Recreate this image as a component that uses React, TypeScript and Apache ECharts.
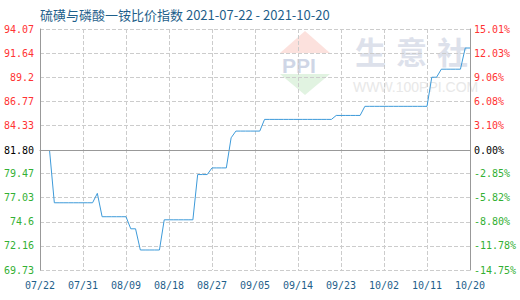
import { useEffect, useRef } from 'react';
import * as echarts from 'echarts';

const chartTitle = '硫磺与磷酸一铵比价指数 2021-07-22 - 2021-10-20';
const startDate = '2021-07-22';
const dayCount = 91;

// daily index values, 07/22 .. 10/20
const indexValues = [
  81.80, 81.80, 81.80,
  76.52, 76.52, 76.52, 76.52, 76.52, 76.52, 76.52, 76.52, 76.52,
  77.47,
  75.11, 75.11, 75.11, 75.11, 75.11, 75.11,
  73.89, 73.89,
  71.75, 71.75, 71.75, 71.75, 71.75,
  74.80, 74.80, 74.80, 74.80, 74.80, 74.80, 74.80,
  79.37, 79.37, 79.37,
  80.04, 80.04, 80.04, 80.04,
  83.08,
  83.76, 83.76, 83.76, 83.76, 83.76, 83.76,
  84.94, 84.94, 84.94, 84.94, 84.94, 84.94, 84.94, 84.94, 84.94, 84.94, 84.94, 84.94, 84.94, 84.94, 84.94,
  85.34, 85.34, 85.34, 85.34, 85.34, 85.34,
  86.26, 86.26, 86.26, 86.26, 86.26, 86.26, 86.26, 86.26, 86.26, 86.26, 86.26, 86.26, 86.26, 86.26,
  89.20, 89.20,
  90.01, 90.01, 90.01, 90.01, 90.01,
  92.15, 92.15,
];

const baseValue = 81.80;
const leftTickLabels = ['69.73', '72.16', '74.6', '77.03', '79.47', '81.80', '84.33', '86.77', '89.2', '91.64', '94.07'];
const rightTickValues = [-14.75, -11.78, -8.80, -5.82, -2.85, 0, 3.10, 6.08, 9.06, 12.03, 15.01];
const watermarkChars = ['生', '意', '社'];

const RED = '#ff3333';
const GREEN = '#33b033';
const BLACK = '#000000';
const BLUE_TEXT = '#1f5f8b';
const MONO = '"DejaVu Sans Mono", monospace';

function buildDates(): string[] {
  const out: string[] = [];
  const d0 = new Date(startDate + 'T00:00:00Z');
  for (let i = 0; i < dayCount; i++) {
    const d = new Date(d0.getTime() + i * 86400000);
    const mm = String(d.getUTCMonth() + 1).padStart(2, '0');
    const dd = String(d.getUTCDate()).padStart(2, '0');
    out.push(`${mm}/${dd}`);
  }
  return out;
}

export default function App() {
  const ref = useRef<HTMLDivElement>(null);

  useEffect(() => {
    if (!ref.current) return;
    const chart = echarts.init(ref.current, null, { renderer: 'svg' });
    const dates = buildDates();
    const leftTickValues = leftTickLabels.map((s) => parseFloat(s));
    const leftMin = leftTickValues[0];
    const leftMax = leftTickValues[leftTickValues.length - 1];

    const leftLabel = (v: number) => {
      let best = 0;
      for (let i = 1; i < leftTickValues.length; i++) {
        if (Math.abs(leftTickValues[i] - v) < Math.abs(leftTickValues[best] - v)) best = i;
      }
      return leftTickLabels[best];
    };

    // faint site watermark behind the plot
    const watermark: any[] = [
      {
        type: 'polygon',
        z: 0,
        silent: true,
        shape: { points: [[305, 31], [280, 53], [330, 53]] },
        style: { fill: 'rgba(240,120,100,0.22)' },
      },
      {
        type: 'text',
        z: 0,
        silent: true,
        x: 282,
        y: 55,
        style: { text: 'PPI', fill: '#cfd6e6', font: 'bold 21px "Liberation Sans", sans-serif' },
      },
      {
        type: 'polygon',
        z: 0,
        silent: true,
        shape: { points: [[280, 74], [330, 74], [305, 95]] },
        style: { fill: 'rgba(120,200,120,0.22)' },
      },
      ...watermarkChars.map((ch, i) => ({
        type: 'text',
        z: 0,
        silent: true,
        x: 355 + i * 41,
        y: 35,
        style: { text: ch, fill: '#dde1eb', font: 'bold 31px "Noto Sans CJK SC", sans-serif' },
      })),
      {
        type: 'text',
        z: 0,
        silent: true,
        x: 353,
        y: 80,
        style: { text: 'WWW.100PPI.COM', fill: '#e8e8e8', font: '14px "Liberation Sans", sans-serif' },
      },
    ];

    chart.setOption({
      animation: false,
      backgroundColor: '#ffffff',
      title: {
        text: chartTitle,
        left: 40,
        top: 8,
        padding: 0,
        textStyle: {
          color: BLUE_TEXT,
          fontSize: 13,
          fontWeight: 'normal',
          fontFamily: '"Noto Sans CJK SC", "DejaVu Sans", sans-serif',
        },
      },
      graphic: watermark,
      grid: { left: 40, right: 50, top: 29, bottom: 30, containLabel: false },
      xAxis: {
        type: 'category',
        data: dates,
        boundaryGap: false,
        axisLine: { show: true, lineStyle: { color: '#999999', width: 1 } },
        axisTick: { show: false },
        axisLabel: {
          interval: 8,
          color: BLUE_TEXT,
          fontFamily: MONO,
          fontSize: 10,
          margin: 10,
        },
        splitLine: {
          show: true,
          interval: 8,
          lineStyle: { color: '#cccccc', type: 'dashed', width: 1 },
        },
      },
      yAxis: [
        {
          type: 'value',
          min: leftMin,
          max: leftMax,
          axisLine: { show: true, lineStyle: { color: '#999999', width: 1 } },
          axisTick: { show: false, customValues: leftTickValues },
          axisLabel: {
            customValues: leftTickValues,
            formatter: (v: number) => leftLabel(v),
            color: (v: any) => {
              const n = Number(v);
              if (Math.abs(n - baseValue) < 0.005) return BLACK;
              return n > baseValue ? RED : GREEN;
            },
            fontFamily: MONO,
            fontSize: 10,
            margin: 6,
          },
          splitLine: { show: true, lineStyle: { color: '#cccccc', type: 'dashed', width: 1 } },
        },
        {
          type: 'value',
          position: 'right',
          min: rightTickValues[0],
          max: rightTickValues[rightTickValues.length - 1],
          axisLine: { show: true, lineStyle: { color: '#999999', width: 1 } },
          axisTick: { show: false, customValues: rightTickValues },
          axisLabel: {
            customValues: rightTickValues,
            formatter: (v: number) => `${Number(v).toFixed(2)}%`,
            color: (v: any) => {
              const n = Number(v);
              if (Math.abs(n) < 0.001) return BLACK;
              return n > 0 ? RED : GREEN;
            },
            fontFamily: MONO,
            fontSize: 10,
            margin: 4,
          },
          splitLine: { show: false },
        },
      ],
      series: [
        {
          type: 'line',
          data: indexValues,
          yAxisIndex: 0,
          symbol: 'none',
          lineStyle: { color: '#3d9ad9', width: 1 },
          itemStyle: { color: '#3d9ad9' },
          z: 3,
          markLine: {
            silent: true,
            symbol: 'none',
            label: { show: false },
            lineStyle: { color: '#999999', type: 'solid', width: 1 },
            data: [{ yAxis: baseValue }],
          },
        },
      ],
    });

    return () => chart.dispose();
  }, []);

  return (
    <div
      ref={ref}
      style={{ position: 'absolute', left: 0, top: 0, width: 520, height: 300 }}
    />
  );
}
